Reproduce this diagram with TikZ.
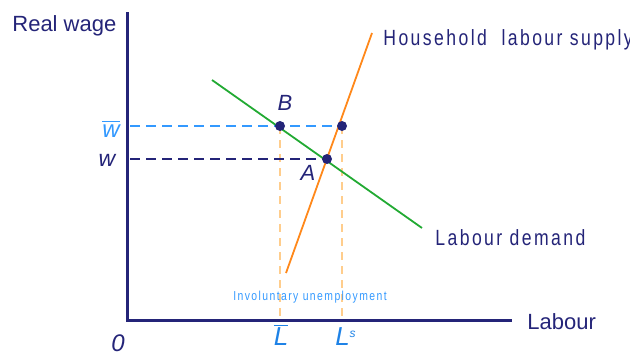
\documentclass[tikz,border=0pt]{standalone}
\usepackage{fontspec}
\setmainfont{Liberation Sans}
\newfontfamily\spacedfont[FakeStretch=0.8,LetterSpace=11]{Liberation Sans}
\definecolor{navy}{RGB}{36,36,120}
\definecolor{lblue}{RGB}{51,153,255}
\definecolor{mblue}{RGB}{30,130,230}
\definecolor{dgreen}{RGB}{34,170,51}
\definecolor{orng}{RGB}{255,136,26}
\definecolor{porng}{RGB}{255,205,140}
\begin{document}
\begin{tikzpicture}[x=0.5pt,y=-0.5pt,font=\fontsize{11}{13}\selectfont]
      \tikzset{lbl/.style={inner sep=0pt, text=navy},
               dot/.style={circle, fill=navy, inner sep=0pt, minimum size=5pt},
               guide/.style={porng, dashed, line width=0.8pt, dash pattern=on 4pt off 3pt}}
      \useasboundingbox (0,0) rectangle (630,354);
      % axes
      \coordinate (O) at (127,320);
      \coordinate (ytop) at (127,12);
      \coordinate (xend) at (512,320);
      \draw[navy, line width=1.5pt] (ytop) -- (O) -- (xend);
      \node[lbl, anchor=base west] (ylab) at (12,31) {Real wage};
      \node[lbl, anchor=base west] (xlab) at (527,329) {Labour};
      \node[lbl, anchor=base] (zero) at (118,351) {\fontsize{12}{14}\selectfont\itshape 0};
      % points
      \coordinate (B) at (280,126);
      \coordinate (C) at (342,126);
      \coordinate (A) at (327,159);
      \coordinate (Lbar) at (280,320);
      \coordinate (Ls) at (342,320);
      \coordinate (wbar) at (130,126);
      \coordinate (wlow) at (130,159);
      % guides
      \draw[guide] (B) -- (Lbar);
      \draw[guide] (C) -- (Ls);
      \draw[lblue, line width=0.9pt, dash pattern=on 5pt off 3pt] (wbar) -- (C);
      \draw[navy, line width=0.9pt, dash pattern=on 5pt off 3pt] (wlow) -- (A);
      % curves
      \coordinate (d1) at (212,80);
      \coordinate (d2) at (422,228);
      \coordinate (s1) at (286,273);
      \coordinate (s2) at (372,33);
      \draw[dgreen, line width=0.9pt] (d1) -- (d2);
      \draw[orng, line width=0.9pt] (s1) -- (s2);
      \node[dot] (pB) at (B) {};
      \node[dot] (pC) at (C) {};
      \node[dot] (pA) at (A) {};
      % labels
      \node[lbl, font=\fontsize{11}{13}\selectfont\itshape] (nB) at (285,103) {B};
      \node[lbl, font=\fontsize{11}{13}\selectfont\itshape] (nA) at (308,173) {A};
      \node[lbl, text=lblue, font=\fontsize{12}{14}\selectfont\itshape] (nwbar) at (111,129) {$\overline{\mbox{\itshape w}}$};
      \node[lbl, font=\fontsize{11.5}{13}\selectfont\itshape] (nw) at (107,160) {w};
      \node[lbl, text=mblue, font=\fontsize{13}{15}\selectfont\itshape] (nLbar) at (281,335) {$\overline{\mbox{\itshape L}}$};
      \node[lbl, text=mblue, font=\fontsize{13}{15}\selectfont\itshape] (nLs) at (346,337) {L$^{\mbox{\fontsize{6}{7}\selectfont s}}$};
      \node[lbl, text=lblue, anchor=center] (unemp) at (310,297) {\spacedfont\fontsize{6.5}{8}\selectfont Involuntary unemployment};
      \node[lbl, anchor=base west] (supply) at (383,45) {\spacedfont Household \ labour supply};
      \node[lbl, anchor=base west] (demand) at (435,245) {\spacedfont Labour demand};
    \end{tikzpicture}
\end{document}
